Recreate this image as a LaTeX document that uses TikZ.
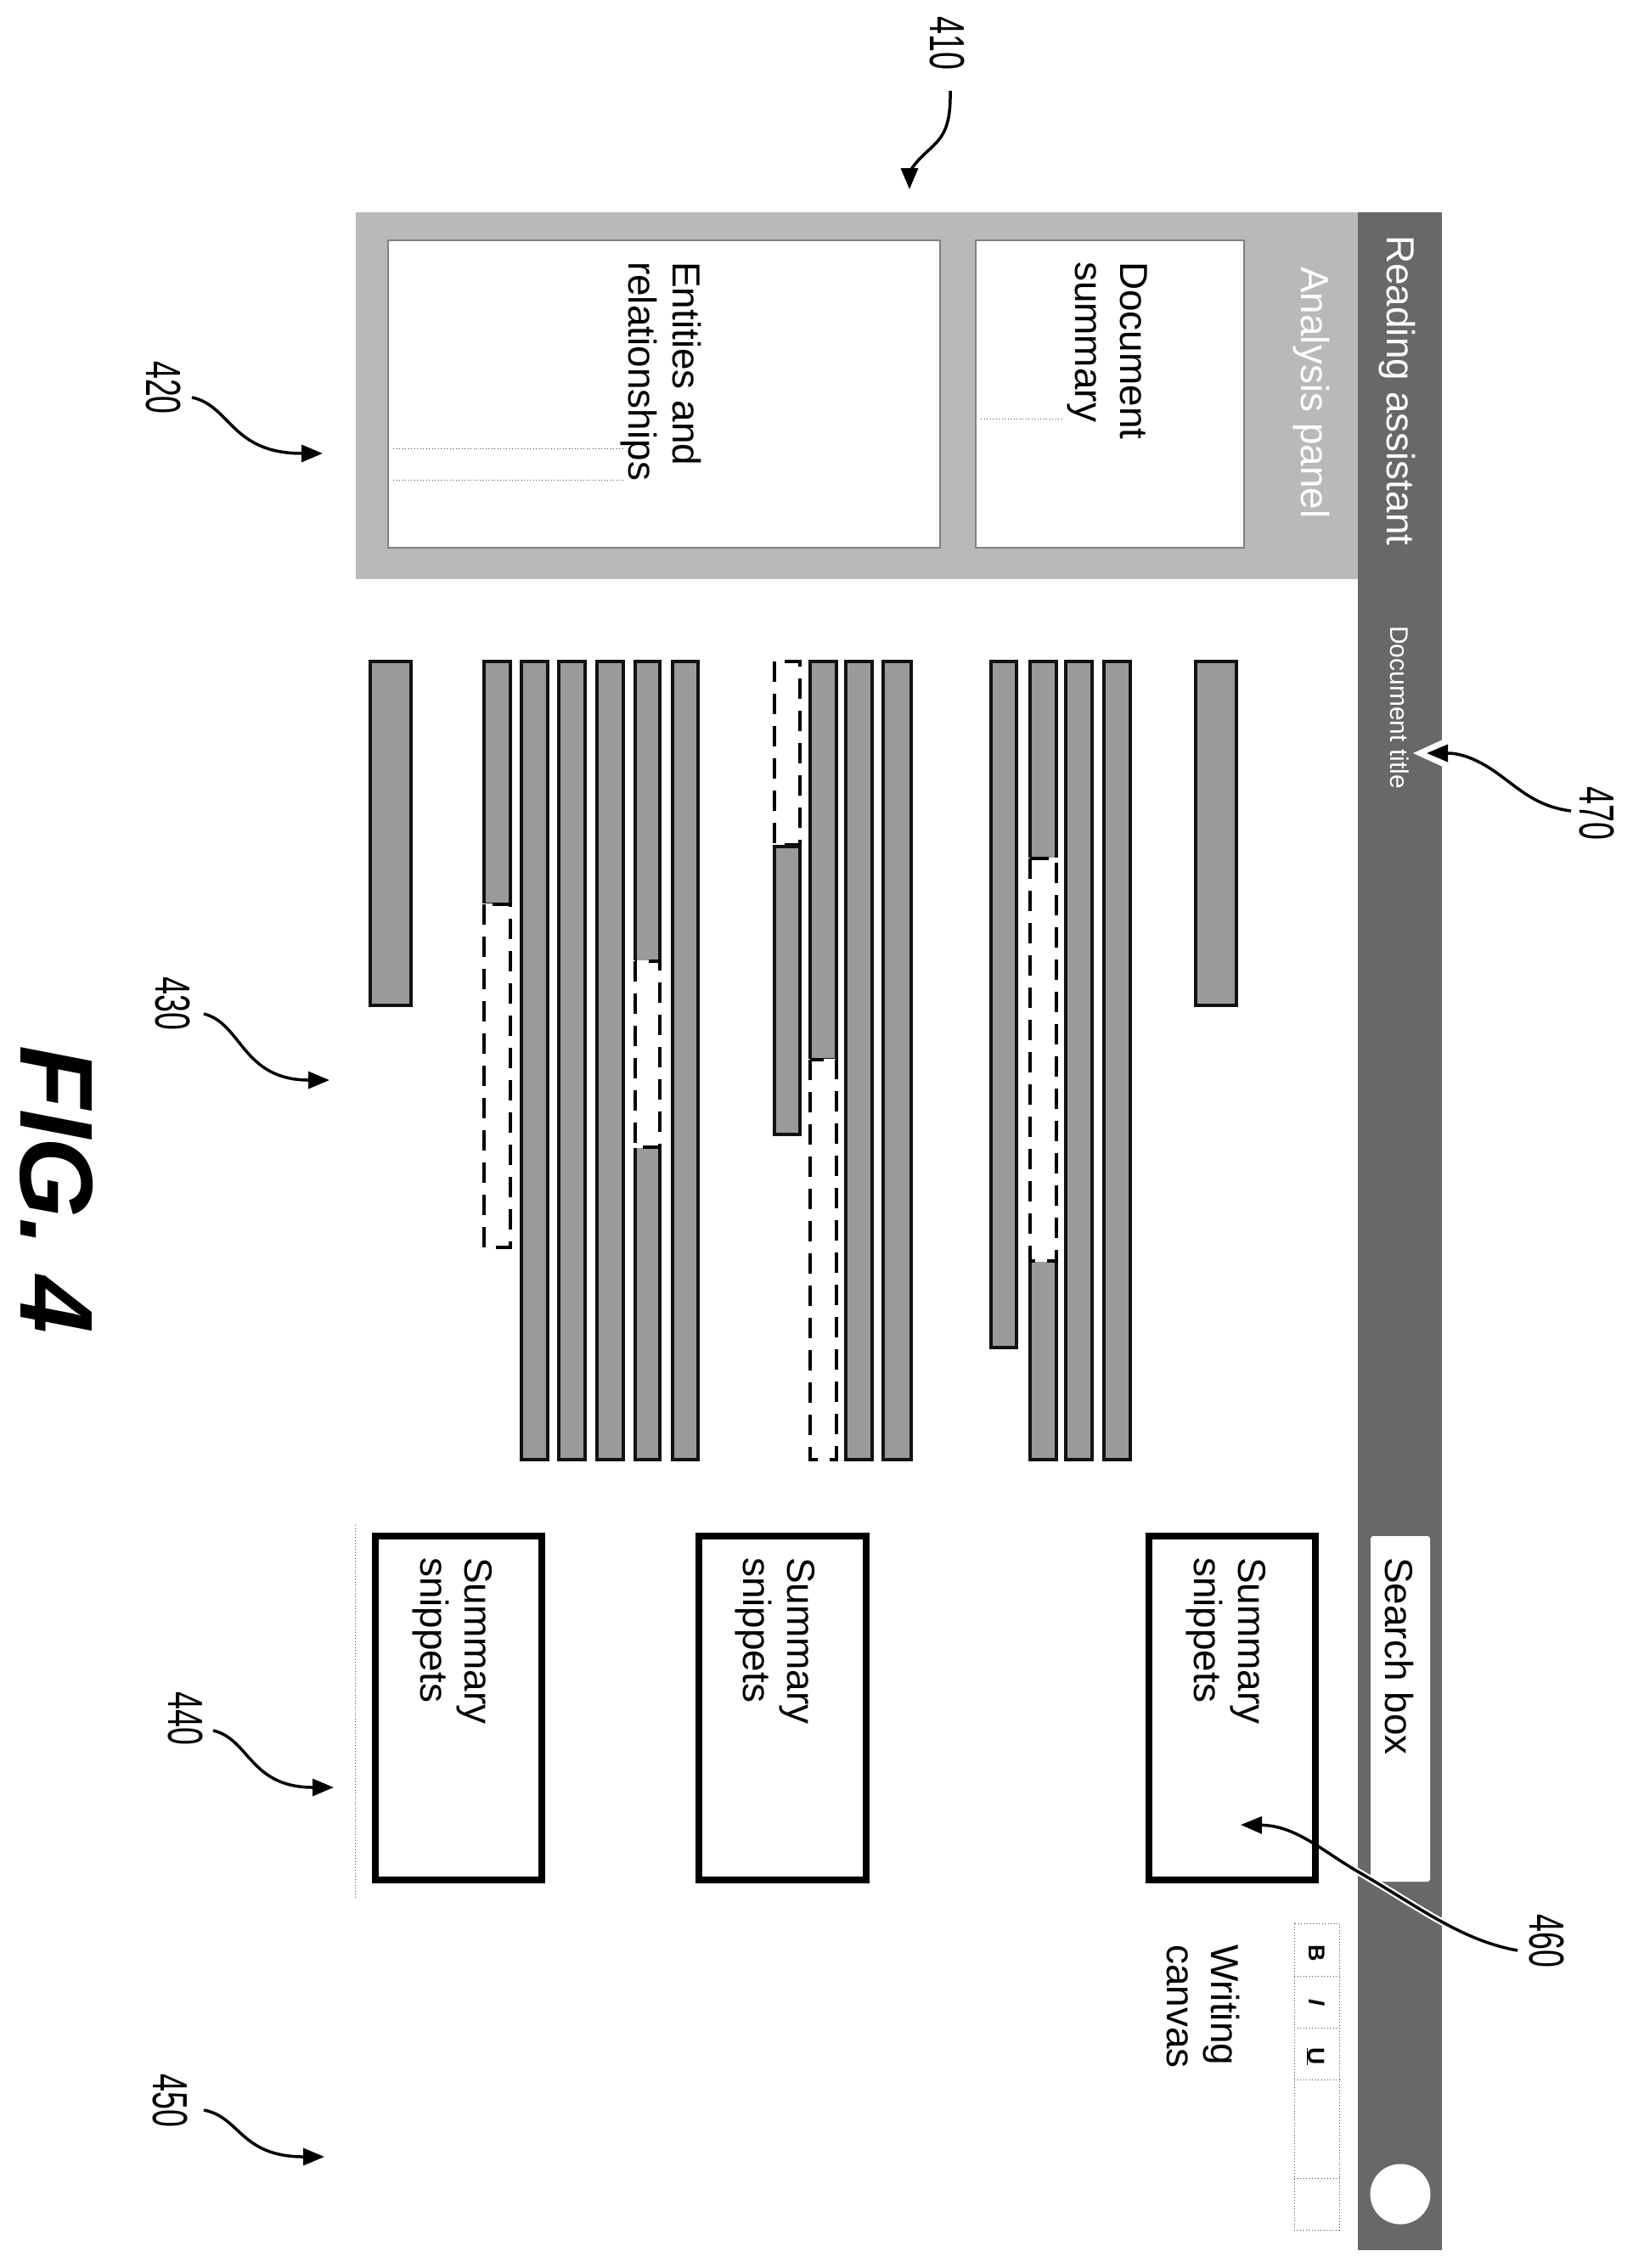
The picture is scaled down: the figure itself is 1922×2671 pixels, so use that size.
\documentclass[tikz,border=0pt]{standalone}
\usepackage{fontspec}
\setmainfont{Liberation Sans}
\usetikzlibrary{arrows.meta}
\definecolor{hdrgray}{HTML}{686868}
\definecolor{panelgray}{HTML}{B9B9B9}
\definecolor{bargray}{HTML}{9A9A9A}
\definecolor{edgegray}{HTML}{111111}
\tikzset{
  x=1pt,y=-1pt,
  uitext/.style={rotate=-90,inner sep=0pt,outer sep=0pt,anchor=north west,align=left,font=\fontsize{46}{52}\selectfont},
  reflabel/.style={rotate=-90,inner sep=0pt,outer sep=0pt,anchor=center,font=\fontsize{58}{58}\selectfont},
  graybar/.style={fill=bargray,draw=edgegray,line width=4.5pt},
  gapbar/.style={draw=black,line width=3.5pt,dash pattern=on 24pt off 14pt},
  snippetbox/.style={fill=white,draw=black,line width=8pt},
  panelbox/.style={fill=white,draw=gray,line width=1.5pt},
  thinrule/.style={draw=black!70,line width=1pt,dash pattern=on 1pt off 2.5pt},
  callout/.style={draw=black,line width=3.5pt,-{Triangle[length=25pt,width=20pt]}},
}
\newcommand{\refnum}[1]{\scalebox{.65}[1]{#1}}
\newcommand{\gapseg}[4]{%
  \fill[white] ({#1-3},{#2-1}) rectangle ({#3+3},{#4+1});
  \draw[gapbar] (#1,#2) rectangle (#3,#4);}
\begin{document}
\begin{tikzpicture}
\useasboundingbox (0,0) rectangle (1922,2671);
\fill[white] (0,0) rectangle (1922,2671);
% panels
\fill[panelgray] (418.5,250) rectangle (1599,682);
\fill[hdrgray] (1599,250) rectangle (1698,2650);
\draw[panelbox] (1149,283) rectangle (1465,645);
\draw[panelbox] (457,283) rectangle (1107,645);
\fill[white,rounded corners=3pt] (1614,1809) rectangle (1684,2216);
\fill[white] (1649,2584) circle (35.5);
% bars
\foreach \a/\b in {1300/1331,1255/1286,1040/1073,996/1027,792/822,703/734,658/689,614/645}
  \draw[graybar] (\a,779) rectangle (\b,1719);
\draw[graybar] (1408,779) rectangle (1456,1184);
\draw[graybar] (436,779) rectangle (484,1184);
\draw[graybar] (1213,779) rectangle (1244,1719);
\gapseg{1213}{1011}{1244}{1485}
\draw[graybar] (1167,779) rectangle (1197,1587);
\draw[graybar] (954,779) rectangle (985,1248);
\gapseg{954}{1248}{985}{1719}
\gapseg{912}{779}{942}{995}
\draw[graybar] (912,997) rectangle (942,1336);
\draw[graybar] (748,779) rectangle (777,1719);
\gapseg{748}{1132}{777}{1351}
\draw[graybar] (570,779) rectangle (601,1065);
\gapseg{570}{1065}{601}{1469}
% snippet boxes
\draw[snippetbox] (1353,1809) rectangle (1549,2214);
\draw[snippetbox] (823,1809) rectangle (1020,2214);
\draw[snippetbox] (442,1809) rectangle (638,2214);
% thin rules
\draw[thinrule] (1155,493) -- (1252,493);
\draw[thinrule] (463,528) -- (733,528);
\draw[thinrule] (463,565) -- (733,565);
\draw[thinrule] (418.5,1796) -- (418.5,2236);
% toolbar
\draw[thinrule] (1524,2265) rectangle (1577,2626);
\foreach \y in {2327,2388,2449,2565} \draw[thinrule] (1524,\y) -- (1577,\y);
\node[rotate=-90,inner sep=0pt,font=\fontsize{27}{27}\selectfont\bfseries] (tbB) at (1551,2300) {B};
\node[rotate=-90,inner sep=0pt,font=\fontsize{27}{27}\selectfont\bfseries\itshape] (tbI) at (1551,2358) {I};
\node[rotate=-90,inner sep=0pt,font=\fontsize{28}{28}\selectfont\bfseries] (tbU) at (1549,2422) {\underline{U}};
% texts
\node[uitext,text=white] (title) at (1667,277) {Reading assistant};
\node[uitext,text=white] (analysis) at (1566,314) {Analysis panel};
\node[uitext,font=\fontsize{46}{53}\selectfont] (docsum) at (1351,308) {Document\\summary};
\node[uitext] (entities) at (826,308) {Entities and\\relationships};
\node[uitext,font=\fontsize{30}{34}\selectfont,text=white] (doctitle) at (1659,737) {Document title};
\node[uitext] (search) at (1665,1834) {Search box};
\node[uitext] (snip1) at (1491,1834) {Summary\\snippets};
\node[uitext] (snip2) at (960,1834) {Summary\\snippets};
\node[uitext] (snip3) at (580,1834) {Summary\\snippets};
\node[uitext] (canvas) at (1460,2290) {Writing\\canvas};
\node[rotate=-90,inner sep=0pt,anchor=center,font=\fontsize{122}{122}\selectfont\bfseries\itshape] (fig) at (67,1401) {FIG. 4};
% reference labels
\node[reflabel] (r410) at (1115,51) {\refnum{410}};
\node[reflabel] (r420) at (192.5,456.5) {\refnum{420}};
\node[reflabel] (r430) at (203,1182) {\refnum{430}};
\node[reflabel] (r440) at (218,2024) {\refnum{440}};
\node[reflabel] (r450) at (200,2474) {\refnum{450}};
\node[reflabel] (r460) at (1821,2286) {\refnum{460}};
\node[reflabel] (r470) at (1880,958) {\refnum{470}};
% callout ends
\coordinate (s410) at (1119,107); \coordinate (e410) at (1071,223);
\coordinate (s420) at (226,468);  \coordinate (e420) at (380,534);
\coordinate (s430) at (240,1194); \coordinate (e430) at (388,1272);
\coordinate (s440) at (251,2038); \coordinate (e440) at (393,2105);
\coordinate (s450) at (240,2485); \coordinate (e450) at (382,2540);
\coordinate (s460) at (1787,2297); \coordinate (e460) at (1461,2149);
\coordinate (s470) at (1850,955); \coordinate (e470) at (1680,887);
% halos on the dark bar
\begin{scope}
\clip (1599,250) rectangle (1698,2650);
\draw[white,line width=8pt] (s460) .. controls (1720,2285) and (1670,2245) .. (1597,2203);
\fill[white] (1664,887) -- (1699,871) -- (1699,903) -- cycle;
\end{scope}
% callouts
\draw[callout] (s410) .. controls (1120,160) and (1105,165) .. (1085,185) .. controls (1072,198) and (1071,205) .. (e410);
\draw[callout] (s420) .. controls (272,478) and (272,534) .. (e420);
\draw[callout] (s430) .. controls (285,1205) and (285,1272) .. (e430);
\draw[callout] (s440) .. controls (294,2048) and (294,2105) .. (e440);
\draw[callout] (s450) .. controls (283,2493) and (283,2540) .. (e450);
\draw[callout] (s460) .. controls (1720,2285) and (1670,2245) .. (1597,2203) .. controls (1555,2178) and (1525,2150) .. (e460);
\draw[callout] (s470) .. controls (1810,950) and (1790,930) .. (1765,912) .. controls (1735,890) and (1715,887) .. (e470);
\end{tikzpicture}
\end{document}
